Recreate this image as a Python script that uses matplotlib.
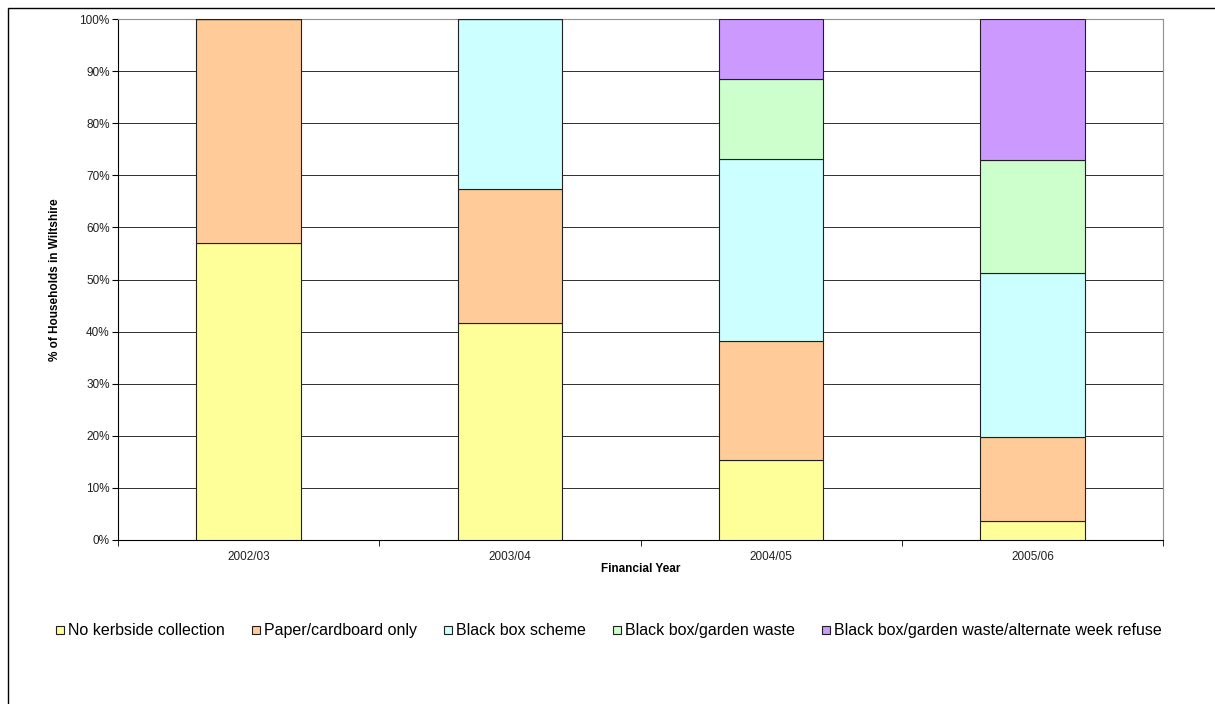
import matplotlib
matplotlib.use("Agg")
import matplotlib.pyplot as plt
import numpy as np
from matplotlib.patches import Rectangle

plt.rcParams['font.family'] = ['Liberation Sans', 'DejaVu Sans']

years = ["2002/03", "2003/04", "2004/05", "2005/06"]
series_names = ["No kerbside collection", "Paper/cardboard only", "Black box scheme",
                "Black box/garden waste", "Black box/garden waste/alternate week refuse"]
no_kerbside = [57.1, 41.7, 15.3, 3.7]
paper_only = [42.9, 25.7, 22.8, 16.1]
black_box = [0.0, 32.6, 35.1, 31.4]
garden_waste = [0.0, 0.0, 15.2, 21.7]
alt_week = [0.0, 0.0, 11.6, 27.1]
colours = ["#ffff99", "#ffcc99", "#ccffff", "#ccffcc", "#cc99ff"]

W, H = 1215, 704
fig = plt.figure(figsize=[W / 100, H / 100], dpi=100)
ax = fig.add_axes([118 / W, 1 - 540 / H, (1163 - 118) / W, (540 - 19) / H])

# outer chart frame
fig.patches.append(Rectangle((8 / W, -0.1), 1.2, 1 - 8 / H + 0.1, transform=fig.transFigure,
                             fill=False, edgecolor="black", linewidth=1.0))

x = np.arange(len(years))
bottom = np.zeros(len(years))
for name, vals, col in zip(series_names, [no_kerbside, paper_only, black_box, garden_waste, alt_week], colours):
    vals = np.array(vals)
    ax.bar(x, vals, 0.4, bottom=bottom, color=col, edgecolor="#202020", linewidth=0.8,
           label=name, zorder=3)
    bottom += vals

ax.set_xlim(-0.5, len(years) - 0.5)
ax.set_ylim(0, 100)
ax.set_yticks(np.arange(0, 101, 10))
ax.set_yticklabels(["%d%%" % v for v in range(0, 101, 10)], fontsize=8.5, color="#202020")
ax.yaxis.grid(True, color="#303030", linewidth=0.7, zorder=0)
ax.set_axisbelow(True)

ax.set_xticks(x)
ax.set_xticklabels(years, fontsize=8.5, color="#202020")
ax.tick_params(axis="x", length=0, pad=8)
ax.set_xticks(np.arange(-0.5, len(years)), minor=True)
ax.tick_params(axis="x", which="minor", length=4, direction="out", color="black")
ax.tick_params(axis="y", length=4, direction="out", pad=2)

for side in ["top", "right"]:
    ax.spines[side].set_color("#909090")
ax.spines["left"].set_color("black")
ax.spines["bottom"].set_color("black")

ax.set_xlabel("Financial Year", fontsize=8.5, fontweight="bold")
ax.xaxis.set_label_coords(0.5, -0.045)
ax.set_ylabel("% of Households in Wiltshire", fontsize=8.5, fontweight="bold")
ax.yaxis.set_label_coords(-0.0546, 0.5)

# legend row: small square key + label, all on one text baseline
renderer = fig.canvas.get_renderer()
xpos = 56
for name, col in zip(series_names, colours):
    fig.patches.append(Rectangle((xpos / W, 1 - 634 / H), 8 / W, 8 / H, transform=fig.transFigure,
                                 facecolor=col, edgecolor="#202020", linewidth=0.8))
    t = fig.text((xpos + 12) / W, 1 - 635 / H, name, fontsize=11.5, va="baseline", ha="left")
    xpos = xpos + 12 + t.get_window_extent(renderer).width + 27

fig.savefig("out.png", dpi=100)
